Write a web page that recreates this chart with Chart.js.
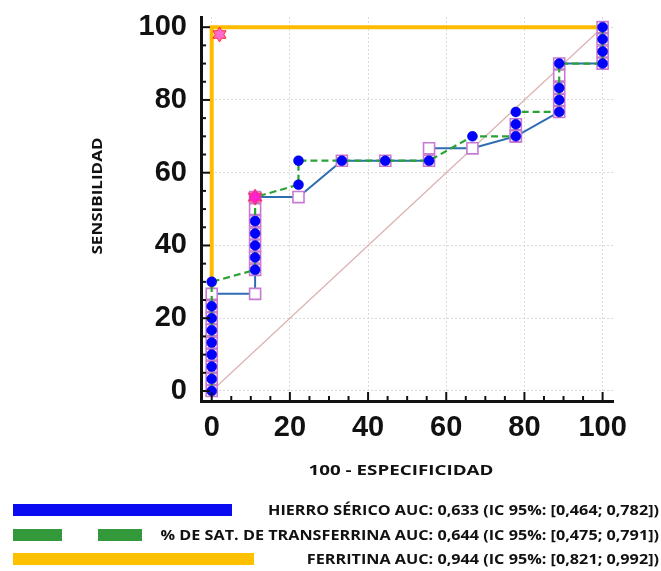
<!DOCTYPE html>
<html>
<head>
<meta charset="utf-8">
<script src="https://cdn.jsdelivr.net/npm/chart.js@4.4.1/dist/chart.umd.min.js"></script>
<style>
  html, body { margin: 0; padding: 0; background: #fff; }
  #wrap { position: relative; width: 661px; height: 571px; }
</style>
</head>
<body>
<div id="wrap"><canvas id="roc" width="661" height="571"></canvas></div>
<script>
// ── Data ──────────────────────────────────────────────────────────────
const axisTicks = [0, 20, 40, 60, 80, 100];
const minorStep = 5;

// Hierro sérico (solid line, square markers)
const hierroX = [0, 0, 0, 0, 0, 0, 0, 0, 0,
  11.1, 11.1, 11.1, 11.1, 11.1, 11.1, 11.1, 11.1,
  22.2, 33.3, 44.4, 55.6, 55.6, 66.7, 77.8, 77.8, 77.8,
  88.9, 88.9, 88.9, 88.9, 88.9, 100, 100, 100, 100];
const hierroY = [0, 3.3, 6.7, 10, 13.3, 16.7, 20, 23.3, 26.7,
  26.7, 33.3, 36.7, 40, 43.3, 46.7, 50, 53.3,
  53.3, 63.3, 63.3, 63.3, 66.7, 66.7, 70, 73.3, 70,
  76.7, 80, 83.3, 86.7, 90, 90, 93.3, 96.7, 100];

// % de saturación de transferrina (dashed line, circle markers)
const satX = [0, 0, 0, 0, 0, 0, 0, 0, 0,
  11.1, 11.1, 11.1, 11.1, 11.1, 11.1,
  22.2, 22.2, 33.3, 44.4, 55.6, 66.7, 77.8, 77.8, 77.8,
  88.9, 88.9, 88.9, 88.9, 100, 100, 100, 100];
const satY = [0, 3.3, 6.7, 10, 13.3, 16.7, 20, 23.3, 30,
  33.3, 36.7, 40, 43.3, 46.7, 53.3,
  56.7, 63.3, 63.3, 63.3, 63.3, 70, 70, 73.3, 76.7,
  76.7, 80, 83.3, 90, 90, 93.3, 96.7, 100];

// Ferritina
const ferritinaX = [0, 0, 100];
const ferritinaY = [0, 100, 100];

// Reference diagonal
const refX = [0, 100];
const refY = [0, 100];

// Optimal cut-off points
const cutSatX = [11.1];
const cutSatY = [53.3];
const cutFerrX = [2];
const cutFerrY = [98];

const xTitle = '100 - ESPECIFICIDAD';
const yTitle = 'SENSIBILIDAD';
const legendLabels = [
  'HIERRO SÉRICO AUC: 0,633 (IC 95%: [0,464; 0,782])',
  '% DE SAT. DE TRANSFERRINA AUC: 0,644 (IC 95%: [0,475; 0,791])',
  'FERRITINA AUC: 0,944 (IC 95%: [0,821; 0,992])'
];

const pts = (xs, ys) => xs.map((x, i) => ({ x, y: ys[i] }));

// ── Star marker ───────────────────────────────────────────────────────
function makeStar(fill, stroke, R) {
  const c = document.createElement('canvas');
  const s = Math.ceil(R * 2 + 4);
  c.width = s; c.height = s;
  const g = c.getContext('2d');
  g.translate(s / 2, s / 2);
  g.beginPath();
  for (let i = 0; i < 12; i++) {
    const r = i % 2 === 0 ? R : R * 0.58;
    const a = -Math.PI / 2 + i * Math.PI / 6;
    g.lineTo(r * Math.cos(a), r * Math.sin(a));
  }
  g.closePath();
  g.fillStyle = fill;
  g.fill();
  g.strokeStyle = stroke;
  g.lineWidth = 1;
  g.stroke();
  return c;
}

// ── Fitted text helper ────────────────────────────────────────────────
function fitText(ctx, text, x, y, width, align, rot) {
  ctx.save();
  ctx.translate(x, y);
  if (rot) ctx.rotate(rot);
  const w = ctx.measureText(text).width;
  ctx.scale(width / w, 1);
  ctx.textAlign = align;
  ctx.textBaseline = 'middle';
  ctx.fillText(text, 0, 0);
  ctx.restore();
}

// ── Extras: inward ticks, axis titles, legend ─────────────────────────
const extras = {
  id: 'extras',
  afterDraw(chart) {
    const { ctx, chartArea, scales: { x, y } } = chart;
    ctx.save();
    ctx.strokeStyle = '#111';
    ctx.lineWidth = 2;
    for (let v = 0; v <= 100; v += minorStep) {
      const len = axisTicks.includes(v) ? 9 : 5;
      const px = x.getPixelForValue(v);
      ctx.beginPath();
      ctx.moveTo(px, chartArea.bottom);
      ctx.lineTo(px, chartArea.bottom - len);
      ctx.stroke();
      const py = y.getPixelForValue(v);
      ctx.beginPath();
      ctx.moveTo(chartArea.left, py);
      ctx.lineTo(chartArea.left + len, py);
      ctx.stroke();
    }

    // axis titles
    ctx.fillStyle = '#111';
    ctx.font = 'bold 14.5px "Open Sans", sans-serif';
    fitText(ctx, xTitle, 401, 471, 185, 'center', 0);
    fitText(ctx, yTitle, 98, 196, 117, 'center', -Math.PI / 2);

    // legend
    const rows = [
      { color: '#0b0bf2', segs: [[13, 232]], y: 510 },
      { color: '#33993a', segs: [[13, 62], [98, 142]], y: 535 },
      { color: '#ffc000', segs: [[13, 254]], y: 559 }
    ];
    ctx.font = 'bold 14.5px "Open Sans", sans-serif';
    const sx = 391 / ctx.measureText(legendLabels[0]).width;
    rows.forEach((r, i) => {
      ctx.fillStyle = r.color;
      r.segs.forEach(([a, b]) => ctx.fillRect(a, r.y - 6, b - a, 12));
      ctx.fillStyle = '#111';
      const w = ctx.measureText(legendLabels[i]).width * sx;
      fitText(ctx, legendLabels[i], 659, r.y + 1, w, 'right', 0);
    });
    ctx.restore();
  }
};

// ── Chart ─────────────────────────────────────────────────────────────
const tickFont = { family: '"Liberation Sans", Arial, sans-serif', size: 29, weight: 'bold' };

const noOverflow = s => {
  s.paddingTop = 0; s.paddingBottom = 0;
  s.paddingLeft = 0; s.paddingRight = 0;
};

new Chart(document.getElementById('roc'), {
  type: 'scatter',
  data: {
    datasets: [
      {
        label: 'Punto de corte ferritina',
        data: pts(cutFerrX, cutFerrY),
        pointStyle: makeStar('#ff6ccf', '#ff2a2a', 7.5),
        order: 0
      },
      {
        label: 'Punto de corte % sat.',
        data: pts(cutSatX, cutSatY),
        pointStyle: makeStar('#ff22cc', '#ff3355', 8),
        order: 0
      },
      {
        label: '% DE SAT. DE TRANSFERRINA',
        data: pts(satX, satY),
        showLine: true,
        borderColor: '#2aa336',
        borderWidth: 2.2,
        borderDash: [7, 4],
        pointStyle: 'circle',
        pointRadius: 5,
        pointBackgroundColor: '#0000ff',
        pointBorderColor: '#0000d0',
        pointBorderWidth: 0.5,
        order: 1
      },
      {
        label: 'HIERRO SÉRICO',
        data: pts(hierroX, hierroY),
        showLine: true,
        borderColor: '#2f6db3',
        borderWidth: 2,
        pointStyle: 'rect',
        pointRadius: 7.8,
        pointBackgroundColor: '#ffffff',
        pointBorderColor: '#c77ad2',
        pointBorderWidth: 1.6,
        order: 2
      },
      {
        label: 'FERRITINA',
        data: pts(ferritinaX, ferritinaY),
        showLine: true,
        borderColor: '#ffbb00',
        borderWidth: 4,
        pointRadius: 0,
        order: 3
      },
      {
        label: 'Referencia',
        data: pts(refX, refY),
        showLine: true,
        borderColor: '#dcb0b0',
        borderWidth: 1.2,
        pointRadius: 0,
        order: 4
      }
    ]
  },
  options: {
    responsive: false,
    animation: false,
    events: [],
    layout: { padding: { left: 0, right: 48, top: 17, bottom: 90 } },
    plugins: { legend: { display: false }, tooltip: { enabled: false } },
    scales: {
      x: {
        type: 'linear',
        min: -2.74,
        max: 102.66,
        afterBuildTicks: s => { s.ticks = axisTicks.map(v => ({ value: v })); },
        afterFit: s => { s.height = 80; noOverflow(s); },
        grid: { color: '#dadada', lineWidth: 1, drawTicks: false },
        border: { display: true, color: '#111', width: 3, dash: [2, 2] },
        ticks: { color: '#111', font: tickFont, padding: 10, maxRotation: 0, autoSkip: false }
      },
      y: {
        type: 'linear',
        min: -2.75,
        max: 102.8,
        afterBuildTicks: s => { s.ticks = axisTicks.map(v => ({ value: v })); },
        afterFit: s => { s.width = 201; noOverflow(s); },
        grid: { color: '#dadada', lineWidth: 1, drawTicks: false },
        border: { display: true, color: '#111', width: 3, dash: [2, 2] },
        ticks: { color: '#111', font: tickFont, padding: 14, autoSkip: false }
      }
    }
  },
  plugins: [extras]
});
</script>
</body>
</html>
